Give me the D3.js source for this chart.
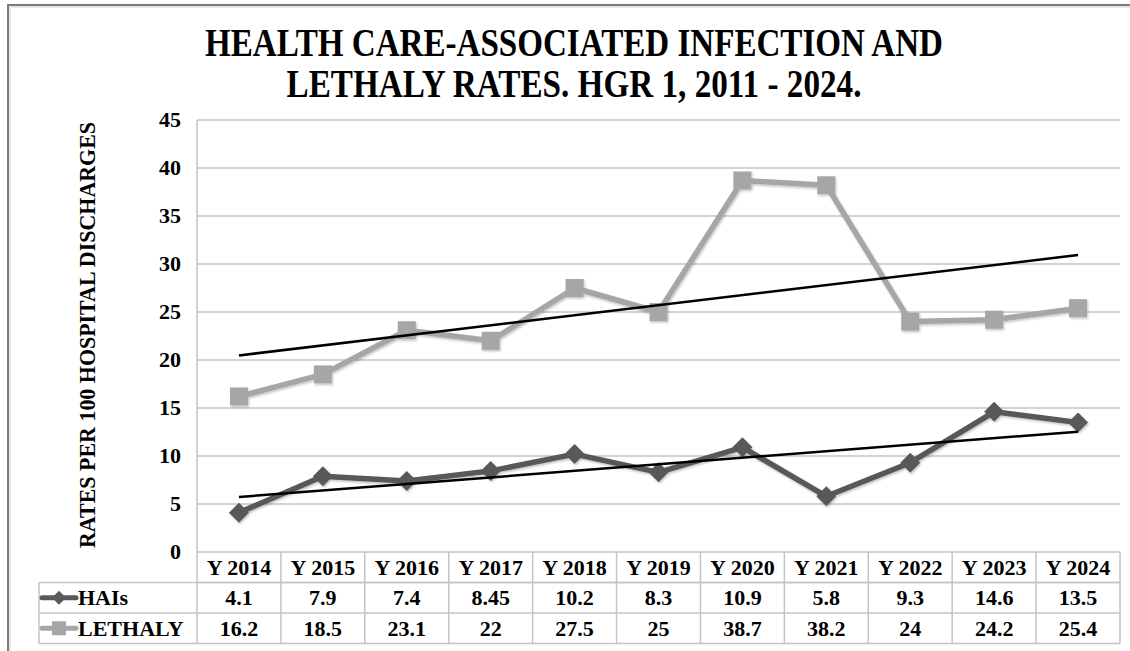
<!DOCTYPE html>
<html>
<head>
<meta charset="utf-8">
<script src="https://cdn.jsdelivr.net/npm/d3@7"></script>
<style>
  html, body { margin: 0; padding: 0; background: #fff; }
  svg { display: block; }
  text { font-family: "Liberation Serif", "Times New Roman", serif; font-weight: bold; fill: #000; }
</style>
</head>
<body>
<svg id="chart" width="1130" height="651"></svg>
<script>
// ---- data ----
const categories = ["Y 2014", "Y 2015", "Y 2016", "Y 2017", "Y 2018", "Y 2019", "Y 2020", "Y 2021", "Y 2022", "Y 2023", "Y 2024"];
const haisValues = [4.1, 7.9, 7.4, 8.45, 10.2, 8.3, 10.9, 5.8, 9.3, 14.6, 13.5];
const lethalyValues = [16.2, 18.5, 23.1, 22, 27.5, 25, 38.7, 38.2, 24, 24.2, 25.4];
const haisLabels = ["4.1", "7.9", "7.4", "8.45", "10.2", "8.3", "10.9", "5.8", "9.3", "14.6", "13.5"];
const lethalyLabels = ["16.2", "18.5", "23.1", "22", "27.5", "25", "38.7", "38.2", "24", "24.2", "25.4"];
const yTicks = [0, 5, 10, 15, 20, 25, 30, 35, 40, 45];
const seriesNames = ["HAIs", "LETHALY"];
const titleLines = ["HEALTH CARE-ASSOCIATED INFECTION AND", "LETHALY RATES. HGR 1, 2011 - 2024."];
const yAxisTitle = "RATES PER 100 HOSPITAL DISCHARGES";

// ---- layout ----
const svg = d3.select("#chart");
const plotL = 197, plotR = 1120, plotT = 120, plotB = 552;
const rowH = 30.5;
const legendL = 39;
const gridColor = "#c4c4c4";
const haisColor = "#595959", lethColor = "#a6a6a6";

const x = d3.scaleBand().domain(categories).range([plotL, plotR]).padding(0);
const cx = c => x(c) + x.bandwidth() / 2;
const y = d3.scaleLinear().domain([0, 45]).range([plotB, plotT]);

// outer frame
svg.append("rect").attr("x", 8).attr("y", 5).attr("width", 1140).attr("height", 660)
  .attr("fill", "none").attr("stroke", "#7a7a7a").attr("stroke-width", 2);
svg.append("rect").attr("x", 10).attr("y", 7).attr("width", 1140).attr("height", 660)
  .attr("fill", "none").attr("stroke", "#d0d0d0").attr("stroke-width", 1);

// title
const titleWidths = [738, 575];
titleLines.forEach((t, i) => {
  svg.append("text").attr("x", 574).attr("y", 56 + i * 41)
    .attr("text-anchor", "middle").attr("font-size", 39)
    .attr("textLength", titleWidths[i]).attr("lengthAdjust", "spacingAndGlyphs")
    .text(t);
});

// y axis title
svg.append("text")
  .attr("transform", `translate(95,${(plotT + plotB) / 2 - 1}) rotate(-90)`)
  .attr("text-anchor", "middle").attr("font-size", 24)
  .attr("textLength", 426).attr("lengthAdjust", "spacingAndGlyphs")
  .text(yAxisTitle);

// gridlines
svg.append("g").selectAll("line").data(yTicks).join("line")
  .attr("x1", plotL).attr("x2", plotR)
  .attr("y1", d => y(d)).attr("y2", d => y(d))
  .attr("stroke", gridColor).attr("stroke-width", 1.5);

// y axis (labels only)
const yAxis = d3.axisLeft(y).tickValues(yTicks).tickSize(0).tickPadding(0);
const gy = svg.append("g").attr("transform", `translate(181,0)`).call(yAxis);
gy.select(".domain").remove();
gy.selectAll("text").attr("font-size", 22).style("font-family", '"Liberation Serif", serif')
  .style("font-weight", "bold").attr("fill", "#000").attr("dy", "0.3em");

// left vertical line of plot/table
svg.append("line").attr("x1", plotL).attr("x2", plotL).attr("y1", plotT).attr("y2", plotB + 3 * rowH)
  .attr("stroke", gridColor).attr("stroke-width", 1.5);

// table
const tb = svg.append("g");
const tableBottom = plotB + 3 * rowH;
[[plotL, plotB + rowH], [legendL, plotB + rowH], [legendL, plotB + 2 * rowH], [legendL, tableBottom]].forEach(([xs, yy]) => {
  tb.append("line").attr("x1", xs).attr("x2", plotR).attr("y1", yy).attr("y2", yy)
    .attr("stroke", gridColor).attr("stroke-width", 1.5);
});
categories.forEach(c => {
  const xe = x(c) + x.bandwidth();
  tb.append("line").attr("x1", xe).attr("x2", xe).attr("y1", plotB).attr("y2", tableBottom)
    .attr("stroke", gridColor).attr("stroke-width", 1.5);
});
tb.append("line").attr("x1", legendL).attr("x2", legendL).attr("y1", plotB + rowH).attr("y2", tableBottom)
  .attr("stroke", gridColor).attr("stroke-width", 1.5);

const tableFont = 22;
tb.selectAll("text.cat").data(categories).join("text").attr("class", "cat")
  .attr("x", d => cx(d)).attr("y", plotB + rowH / 2).attr("dy", "0.35em")
  .attr("text-anchor", "middle").attr("font-size", tableFont).text(d => d);
[haisLabels, lethalyLabels].forEach((labels, r) => {
  tb.selectAll(`text.v${r}`).data(labels).join("text").attr("class", `v${r}`)
    .attr("x", (d, i) => cx(categories[i])).attr("y", plotB + rowH * (r + 1.5)).attr("dy", "0.35em")
    .attr("text-anchor", "middle").attr("font-size", tableFont).text(d => d);
});

// marker paths
const diamond = s => `M0,${-s}L${s},0L0,${s}L${-s},0Z`;
const square = s => `M${-s},${-s}H${s}V${s}H${-s}Z`;

// legend in table
const legRows = [{ name: seriesNames[0], color: haisColor, shape: diamond(7) }, { name: seriesNames[1], color: lethColor, shape: square(7) }];
legRows.forEach((d, r) => {
  const yy = plotB + rowH * (r + 1.5);
  tb.append("line").attr("x1", 42).attr("x2", 76).attr("y1", yy).attr("y2", yy)
    .attr("stroke", d.color).attr("stroke-width", 5).attr("stroke-linecap", "round");
  tb.append("path").attr("d", d.shape).attr("transform", `translate(59,${yy})`).attr("fill", d.color);
  tb.append("text").attr("x", 78).attr("y", yy).attr("dy", "0.35em").attr("font-size", tableFont).text(d.name);
});

// drop shadow filter
const defs = svg.append("defs");
const f = defs.append("filter").attr("id", "sh").attr("x", "-20%").attr("y", "-20%").attr("width", "140%").attr("height", "140%");
f.append("feDropShadow").attr("dx", 1).attr("dy", 1.5).attr("stdDeviation", 1.2).attr("flood-color", "#000").attr("flood-opacity", 0.25);

// series
const line = d3.line().x((d, i) => cx(categories[i])).y(d => y(d));
function drawSeries(vals, color, shape) {
  const g = svg.append("g").attr("filter", "url(#sh)");
  g.append("path").datum(vals).attr("d", line).attr("fill", "none")
    .attr("stroke", color).attr("stroke-width", 5.5).attr("stroke-linejoin", "round");
  g.selectAll("path.m").data(vals).join("path").attr("class", "m")
    .attr("d", shape).attr("transform", (d, i) => `translate(${cx(categories[i])},${y(d)})`)
    .attr("fill", color);
}
drawSeries(lethalyValues, lethColor, square(9));
drawSeries(haisValues, haisColor, diamond(10));

// linear trend lines (least squares over category index)
function trend(vals) {
  const n = vals.length, xs = d3.range(n);
  const mx = d3.mean(xs), my = d3.mean(vals);
  const b = d3.sum(xs, i => (i - mx) * (vals[i] - my)) / d3.sum(xs, i => (i - mx) ** 2);
  const a = my - b * mx;
  return xs.map(i => a + b * i);
}
[trend(lethalyValues), trend(haisValues)].forEach(t => {
  svg.append("path").datum([t[0], t[t.length - 1]])
    .attr("d", d3.line().x((d, i) => cx(categories[i === 0 ? 0 : categories.length - 1])).y(d => y(d)))
    .attr("fill", "none").attr("stroke", "#000").attr("stroke-width", 2.5);
});
</script>
</body>
</html>
